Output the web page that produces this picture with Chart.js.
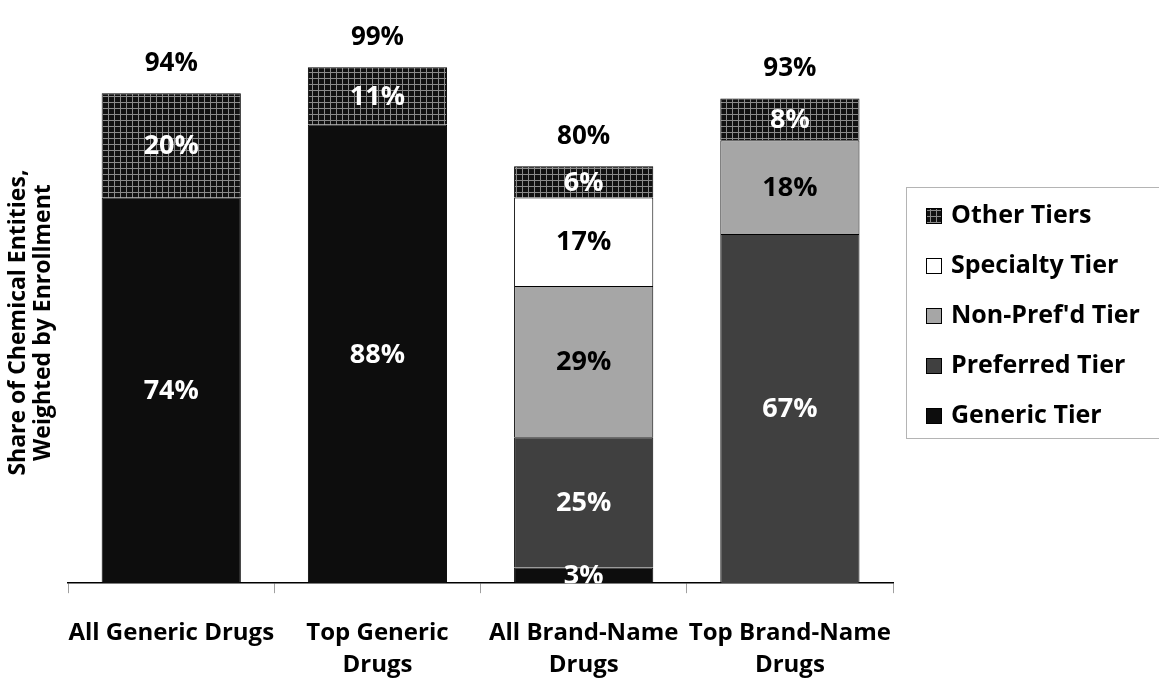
<!DOCTYPE html>
<html>
<head>
<meta charset="utf-8">
<script src="https://cdn.jsdelivr.net/npm/chart.js@4.4.1/dist/chart.umd.min.js"></script>
<style>
  body { margin: 0; background: #fff; }
  #wrap { width: 1159px; height: 679px; }
</style>
</head>
<body>
<div id="wrap"><canvas id="tierChart"></canvas></div>
<script>
// Formulary tier placement by drug group (percent of chemical entities)
const categories = [['All Generic Drugs'], ['Top Generic', 'Drugs'], ['All Brand-Name', 'Drugs'], ['Top Brand-Name', 'Drugs']];
const genericTier = [74, 88, 3, null];
const preferredTier = [null, null, 25, 67];
const nonPrefTier = [null, null, 29, 18];
const specialtyTier = [null, null, 17, null];
const otherTiers = [20, 11, 6, 8];

const FONT = "'Open Sans', 'DejaVu Sans', sans-serif";

// crosshatch fill used for "Other Tiers"
function makeGrid() {
    const c = document.createElement('canvas');
    c.width = 6; c.height = 6;
    const g = c.getContext('2d');
    g.fillStyle = '#111111';
    g.fillRect(0, 0, 6, 6);
    g.fillStyle = '#8a8a8a';
    g.fillRect(0, 0, 6, 1);
    g.fillRect(0, 0, 1, 6);
    return g.createPattern(c, 'repeat');
}
const gridFill = makeGrid();

function series(label, data, fill, textColor) {
    return {
        label: label,
        data: data,
        backgroundColor: fill,
        borderColor: '#000',
        borderWidth: 1,
        labelColor: textColor,
        categoryPercentage: 1,
        barPercentage: 0.675
    };
}

// value labels inside each segment and the stack total on top
const valueLabels = {
    id: 'valueLabels',
    afterDatasetsDraw(chart) {
        const ctx = chart.ctx;
        const area = chart.chartArea;
        ctx.save();
        ctx.font = 'bold 27px ' + FONT;
        ctx.textAlign = 'center';
        ctx.textBaseline = 'middle';

        ctx.save();
        ctx.beginPath();
        ctx.rect(area.left, area.top - 60, area.right - area.left, area.bottom - area.top + 60);
        ctx.clip();
        chart.data.datasets.forEach((ds, di) => {
            chart.getDatasetMeta(di).data.forEach((bar, i) => {
                const v = ds.data[i];
                if (v == null) return;
                const p = bar.getProps(['x', 'y', 'base'], true);
                ctx.fillStyle = ds.labelColor;
                ctx.fillText(v + '%', p.x, (p.y + p.base) / 2 + 1);
            });
        });
        ctx.restore();

        ctx.font = 'bold 26px ' + FONT;
        ctx.fillStyle = '#000';
        const meta0 = chart.getDatasetMeta(0);
        categories.forEach((c, i) => {
            let total = 0;
            chart.data.datasets.forEach(ds => { total += ds.data[i] || 0; });
            const y = chart.scales.y.getPixelForValue(total);
            ctx.fillText(total + '%', meta0.data[i].x, y - 30);
        });
        ctx.restore();
    }
};

// boxed legend on the right, top series first
const sideLegend = {
    id: 'sideLegend',
    afterDraw(chart) {
        const ctx = chart.ctx;
        const left = 906, top = 187, height = 251;
        ctx.save();
        ctx.strokeStyle = '#b4b4b4';
        ctx.lineWidth = 1;
        ctx.strokeRect(left + 0.5, top + 0.5, 300, height);

        ctx.font = 'bold 25px ' + FONT;
        ctx.textBaseline = 'middle';
        const items = chart.data.datasets.slice().reverse();
        items.forEach((ds, k) => {
            const cy = 216 + k * 50;
            ctx.fillStyle = ds.backgroundColor;
            ctx.fillRect(926, cy - 8, 16, 16);
            ctx.strokeStyle = '#000';
            ctx.strokeRect(926.5, cy - 7.5, 15, 15);
            ctx.fillStyle = '#000';
            ctx.fillText(ds.label, 951, cy);
        });
        ctx.restore();
    }
};

new Chart(document.getElementById('tierChart'), {
    type: 'bar',
    data: {
        labels: categories,
        datasets: [
            series('Generic Tier', genericTier, '#0d0d0d', '#fff'),
            series('Preferred Tier', preferredTier, '#404040', '#fff'),
            series("Non-Pref'd Tier", nonPrefTier, '#a6a6a6', '#000'),
            series('Specialty Tier', specialtyTier, '#ffffff', '#000'),
            series('Other Tiers', otherTiers, gridFill, '#fff')
        ]
    },
    options: {
        responsive: true,
        maintainAspectRatio: false,
        animation: false,
        layout: { padding: { left: 1, right: 266, top: 62, bottom: -26 } },
        plugins: {
            legend: { display: false },
            tooltip: { enabled: false }
        },
        scales: {
            x: {
                stacked: true,
                grid: { offset: true, drawOnChartArea: false, drawTicks: true, tickLength: 10, color: '#a0a0a0' },
                border: { color: '#000', width: 1.5 },
                ticks: {
                    color: '#000',
                    padding: 24,
                    maxRotation: 0,
                    autoSkip: false,
                    font: { family: FONT, size: 24, weight: 'bold', lineHeight: 1.33 }
                }
            },
            y: {
                stacked: true,
                min: 0,
                max: 100,
                grid: { display: false, drawTicks: false },
                border: { display: false },
                ticks: { display: false },
                title: {
                    display: true,
                    text: ['Share of Chemical Entities,', 'Weighted by Enrollment'],
                    color: '#000',
                    font: { family: FONT, size: 23, weight: 'bold', lineHeight: 1.09 },
                    padding: { top: 5, bottom: 12 }
                }
            }
        }
    },
    plugins: [valueLabels, sideLegend]
});
</script>
</body>
</html>
